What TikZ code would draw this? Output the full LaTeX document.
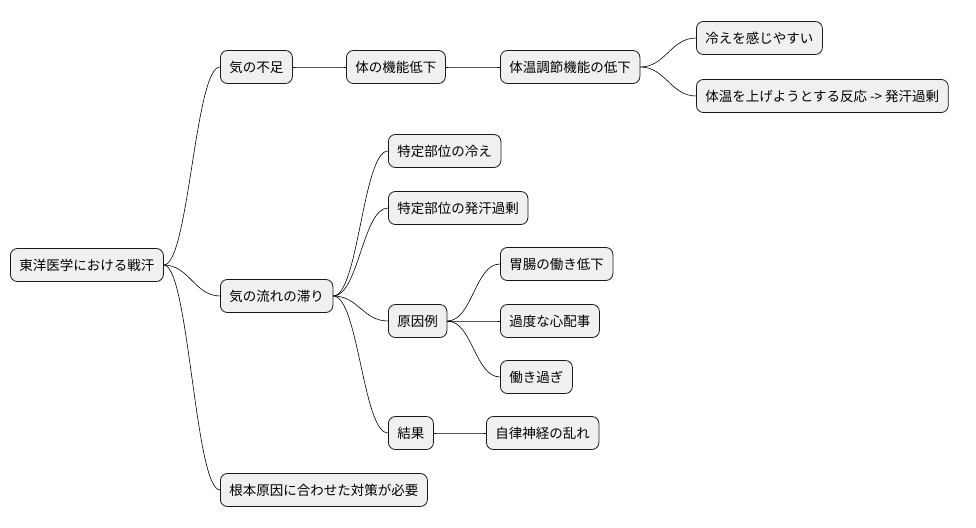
\documentclass[tikz,border=0pt]{standalone}
\usepackage{fontspec}
\setmainfont{Noto Sans CJK JP}
\begin{document}
\begin{tikzpicture}[x=1pt,y=-1pt,
  n/.style={draw=black!90,fill=black!6,rounded corners=7pt,line width=0.8pt,anchor=west,minimum height=33pt,inner xsep=9pt,font=\fontsize{13.5}{16}\selectfont},
  c/.style={draw=black,line width=0.6pt}]
\useasboundingbox (0,0) rectangle (976,527);
\node[n] (r) at (10,265) {東洋医学における戦汗};
\node[n] (a) at (220,67) {気の不足};
\node[n] (a1) at (346,67) {体の機能低下};
\node[n] (a2) at (500,67) {体温調節機能の低下};
\node[n] (a3) at (696,38) {冷えを感じやすい};
\node[n] (a4) at (696,96) {体温を上げようとする反応 -> 発汗過剰};
\node[n] (b) at (220,296) {気の流れの滞り};
\node[n] (b1) at (388,151) {特定部位の冷え};
\node[n] (b2) at (388,208) {特定部位の発汗過剰};
\node[n] (b3) at (388,321) {原因例};
\node[n] (b31) at (500,264) {胃腸の働き低下};
\node[n] (b32) at (500,321) {過度な心配事};
\node[n] (b33) at (500,377) {働き過ぎ};
\node[n] (b4) at (388,433) {結果};
\node[n] (b41) at (486,433) {自律神経の乱れ};
\node[n] (d) at (220,490) {根本原因に合わせた対策が必要};
\foreach \p/\q in {r/a,r/b,r/d,a/a1,a1/a2,a2/a3,a2/a4,b/b1,b/b2,b/b3,b/b4,b3/b31,b3/b32,b3/b33,b4/b41}
  \draw[c] (\p.east) .. controls +(25,0) and +(-25,0) .. (\q.west);
\end{tikzpicture}
\end{document}
